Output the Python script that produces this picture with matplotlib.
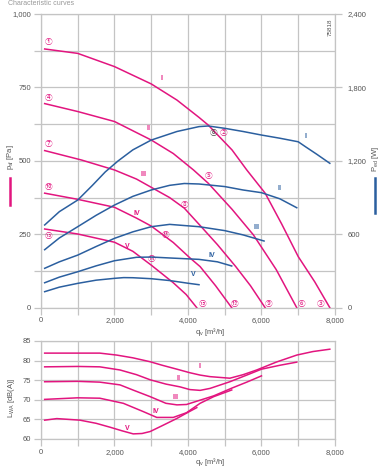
import matplotlib
matplotlib.use('Agg')
import matplotlib.pyplot as plt
from matplotlib.lines import Line2D

plt.rcParams['font.family'] = ['Liberation Sans', 'DejaVu Sans']
plt.rcParams['mathtext.default'] = 'regular'

# --- pressure curves p_sf [Pa] vs q_V [m3/h]
q_p1 = [100, 1000, 2000, 3000, 3700, 4300, 4550, 5200, 5600, 6100, 6550, 7000, 7450, 7860]
p_p1 = [881, 866, 821, 762, 707, 648, 622, 537, 469, 390, 285, 174, 88, 0]
q_p2 = [100, 1000, 2000, 3000, 3600, 4150, 4550, 5200, 5780, 6400, 6960]
p_p2 = [695, 668, 634, 571, 525, 469, 424, 335, 248, 130, 0]
q_p3 = [100, 1100, 2000, 2600, 3000, 3500, 3900, 4330, 4800, 5300, 5700, 6100]
p_p3 = [535, 503, 469, 438, 410, 375, 339, 280, 215, 140, 75, 0]
q_p4 = [100, 1000, 2000, 2600, 3000, 3600, 4050, 4330, 4750, 5190]
p_p4 = [390, 369, 342, 305, 278, 222, 170, 140, 75, 0]
q_p5 = [100, 1000, 2000, 2500, 3000, 3600, 3950, 4240]
p_p5 = [268, 251, 223, 192, 145, 85, 45, 0]

# --- power curves P_ed [W]
q_w1 = [100, 500, 1000, 1400, 1750, 2100, 2500, 3000, 3700, 4300, 4550, 5000, 5500, 6000, 6500, 7000, 7200, 7500, 7860]
w_1 = [676, 785, 880, 1000, 1110, 1200, 1290, 1370, 1440, 1480, 1485, 1466, 1440, 1411, 1385, 1356, 1315, 1255, 1180]
q_w2 = [100, 500, 1000, 1500, 2000, 2500, 3000, 3500, 3900, 4300, 5000, 5500, 6000, 6500, 6960]
w_2 = [474, 570, 662, 755, 839, 910, 962, 1000, 1015, 1011, 990, 962, 940, 890, 817]
q_w3 = [100, 500, 1000, 1500, 2000, 2500, 3000, 3500, 4300, 5000, 5500, 6070]
w_3 = [322, 375, 430, 500, 567, 620, 662, 681, 662, 630, 595, 545]
q_w4 = [100, 500, 1000, 1500, 2000, 2600, 3000, 3600, 4300, 4800, 5190]
w_4 = [204, 250, 294, 342, 384, 412, 414, 405, 395, 375, 341]
q_w5 = [100, 500, 1000, 1500, 2000, 2250, 2500, 3000, 3500, 4000, 4300]
w_5 = [131, 168, 199, 225, 240, 246, 245, 237, 222, 200, 188]

# --- sound power L_WA [dB(A)]
q_s1 = [100, 1000, 1600, 2060, 2500, 2970, 3300, 3700, 4050, 4330, 4600, 5140, 5500, 5870, 6400, 6960, 7400, 7860]
s_1 = [81.9, 81.9, 81.9, 81.4, 80.7, 79.7, 78.8, 77.8, 76.9, 76.3, 75.9, 75.5, 76.4, 77.6, 79.6, 81.4, 82.3, 82.9]
q_s2 = [100, 1000, 1600, 2150, 2600, 2970, 3400, 3780, 4050, 4330, 4600, 5140, 5600, 6000, 6500, 6960]
s_2 = [78.4, 78.5, 78.4, 77.6, 76.4, 75.1, 74.0, 73.3, 72.6, 72.4, 72.9, 74.6, 76.3, 77.8, 78.8, 79.6]
q_s3 = [100, 1000, 1600, 2150, 2500, 2970, 3400, 3700, 3960, 4330, 4700, 5200, 5600, 6000]
s_3 = [74.6, 74.7, 74.5, 73.8, 72.5, 70.8, 69.1, 68.7, 68.8, 69.9, 71.0, 73.0, 74.5, 76.1]
q_s4 = [100, 1000, 1600, 2240, 2780, 3150, 3600, 3960, 4330, 4700, 5190]
s_4 = [70.1, 70.5, 70.4, 69.1, 67.0, 65.5, 65.5, 66.7, 69.1, 70.8, 72.5]
q_s5 = [100, 430, 1060, 1500, 1880, 2200, 2510, 2750, 2970, 3300, 3690, 4000, 4240]
s_5 = [64.8, 65.2, 64.8, 64.0, 63.0, 62.1, 61.3, 61.4, 61.9, 63.4, 65.2, 66.8, 68.0]

roman = ['I', 'II', 'III', 'IV', 'V']

MAG = '#e2157f'
BLUE = '#2b5f9f'
GRID = '#c4c4c4'
TXT = '#555555'
FS = 5.5
CIRC = ['Noto Sans CJK JP', 'DejaVu Sans']

fig = plt.figure(figsize=(3.9, 4.69), dpi=100)

def style(ax):
    ax.grid(True, color=GRID, lw=0.9)
    ax.set_axisbelow(True)
    for s in ax.spines.values():
        s.set_color(GRID)
        s.set_linewidth(0.9)
    ax.tick_params(colors=GRID, labelcolor=TXT, labelsize=FS, length=5, width=0.9, pad=2)

fmt = lambda v: '{:,}'.format(int(v))

# ---------------- top chart
ax = fig.add_axes([0.1051, 0.3439, 0.7538, 0.6262])
ax.set_xlim(0, 8000)
ax.set_ylim(0, 1000)
ax.set_xticks(range(0, 8001, 1000))
ax.set_xticklabels([fmt(v) if v % 2000 == 0 else '' for v in range(0, 8001, 1000)])
ax.set_yticks(range(0, 1001, 125))
ax.set_yticklabels([fmt(v) if v % 250 == 0 else '' for v in range(0, 1001, 125)])
style(ax)

ax2 = ax.twinx()
ax2.set_ylim(0, 2400)
ax2.set_yticks(range(0, 2401, 600))
ax2.set_yticklabels([fmt(v) for v in range(0, 2401, 600)])
for s in ax2.spines.values():
    s.set_visible(False)
ax2.tick_params(colors=GRID, labelcolor=TXT, labelsize=FS, length=5, width=0.9, pad=4)

for q, w in [(q_w1, w_1), (q_w2, w_2), (q_w3, w_3), (q_w4, w_4), (q_w5, w_5)]:
    ax2.plot(q, w, color=BLUE, lw=1.1)
for q, p in [(q_p1, p_p1), (q_p2, p_p2), (q_p3, p_p3), (q_p4, p_p4), (q_p5, p_p5)]:
    ax.plot(q, p, color=MAG, lw=1.1)

# roman labels on pressure curves
for (x, y), r in zip([(3280, 780), (2930, 610), (2800, 455), (2600, 322), (2350, 209)], roman):
    ax.text(x, y, r, color=MAG, fontsize=5, fontweight='bold', ha='center', va='center')
# roman labels on power curves
for (x, y), r in zip([(7210, 1397), (6500, 972), (5870, 652), (4660, 430), (4150, 268)], roman):
    ax2.text(x, y, r, color=BLUE, fontsize=5, fontweight='bold', ha='center', va='center')

# operating point markers
pts = [(200, 905, '①'), (4960, 595, '②'), (7600, 12, '③'),
       (200, 715, '④'), (4550, 450, '⑤'), (7080, 12, '⑥'),
       (200, 557, '⑦'), (3900, 350, '⑧'), (6180, 12, '⑨'),
       (200, 410, '⑩'), (3400, 247, '⑪'), (5280, 12, '⑫'),
       (200, 244, '⑬'), (3000, 165, '⑭'), (4410, 12, '⑮')]
for x, y, t in pts:
    ax.text(x, y, t, color=MAG, fontsize=5.5, ha='center', va='center', family=CIRC)
ax.text(4700, 595, '⑥', color='#444444', fontsize=5.5, ha='center', va='center', family=CIRC)

ax.text(7880, 985, '75818', rotation=90, color=TXT, fontsize=4.5, ha='center', va='top')

fig.text(0.50, 0.2925, 'q$_v$ [m³/h]', color=TXT, fontsize=FS, ha='left', va='center')
fig.text(0.026, 0.665, 'p$_{sf}$ [Pa]', rotation=90, color=TXT, fontsize=FS, ha='center', va='center')
fig.add_artist(Line2D([0.026, 0.026], [1 - 178 / 469, 1 - 205 / 469], color=MAG, lw=1.8))
fig.text(0.962, 0.662, 'P$_{ed}$ [W]', rotation=90, color=TXT, fontsize=FS, ha='center', va='center')
fig.add_artist(Line2D([0.962, 0.962], [1 - 178 / 469, 1 - 213 / 469], color=BLUE, lw=1.8))
fig.text(0.02, 0.999, 'Characteristic curves', color='#999999', fontsize=5, ha='left', va='top')

# ---------------- bottom chart
bx = fig.add_axes([0.1051, 0.064, 0.7538, 0.209])
bx.set_xlim(0, 8000)
bx.set_ylim(60, 85)
bx.set_xticks(range(0, 8001, 1000))
bx.set_xticklabels([fmt(v) if v % 2000 == 0 else '' for v in range(0, 8001, 1000)])
bx.set_yticks(range(60, 86, 5))
style(bx)
for q, s in [(q_s1, s_1), (q_s2, s_2), (q_s3, s_3), (q_s4, s_4), (q_s5, s_5)]:
    bx.plot(q, s, color=MAG, lw=1.1)
for (x, y), r in zip([(4300, 78.4), (3750, 75.5), (3650, 70.7), (3120, 67.1), (2340, 62.8)], roman):
    bx.text(x, y, r, color=MAG, fontsize=5, fontweight='bold', ha='center', va='center')

fig.text(0.50, 0.0149, 'q$_v$ [m³/h]', color=TXT, fontsize=FS, ha='left', va='center')
fig.text(0.030, 0.152, 'L$_{WA}$ [dB(A)]', rotation=90, color=TXT, fontsize=FS, ha='center', va='center')

fig.savefig('out.png', dpi=100, facecolor='white')
